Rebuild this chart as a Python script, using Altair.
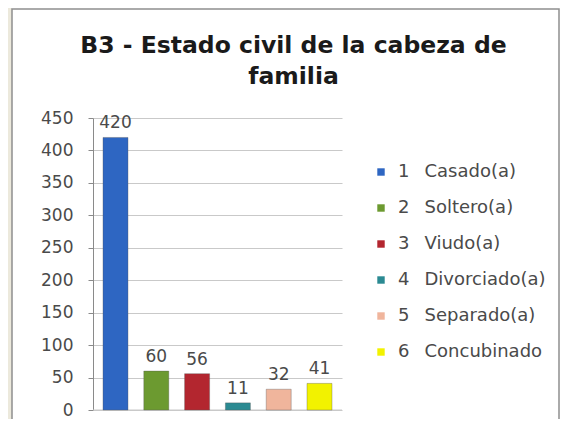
import altair as alt
import pandas as pd

categories = ["1", "2", "3", "4", "5", "6"]
names = ["Casado(a)", "Soltero(a)", "Viudo(a)", "Divorciado(a)", "Separado(a)", "Concubinado"]
values = [420, 60, 56, 11, 32, 41]
colors = ["#2E66C2", "#6C9A30", "#B3262F", "#2B8A92", "#F0B59C", "#F2F200"]
y_ticks = [0, 50, 100, 150, 200, 250, 300, 350, 400, 450]
title_lines = ["B3 - Estado civil de la cabeza de", "familia"]

labels = [c + "\u00a0\u00a0\u2009" + n for c, n in zip(categories, names)]
df = pd.DataFrame({"cat": labels, "value": values})

font = "DejaVu Sans"
one = pd.DataFrame({"a": [0]})

beige = alt.Chart(one).mark_rect(fill="#ECE9DC", strokeWidth=0).encode(
    x=alt.value(-85), x2=alt.value(-81), y=alt.value(-110), y2=alt.value(310)
)
frame = alt.Chart(one).mark_rect(
    fill=None, stroke="#8f8f8f", strokeWidth=1.5
).encode(
    x=alt.value(-81), x2=alt.value(466), y=alt.value(-109), y2=alt.value(330)
)

base = alt.Chart(df).encode(
    x=alt.X("cat:N", sort=labels, axis=None,
            scale=alt.Scale(paddingInner=0.387, paddingOuter=0.245)),
    y=alt.Y("value:Q", scale=alt.Scale(domain=[0, 450], nice=False),
            axis=alt.Axis(values=y_ticks, title=None, grid=True, gridColor="#c9c9c9",
                          domainColor="#8a8a8a", tickColor="#8a8a8a", tickSize=5,
                          labelPadding=15, labelFontSize=17, labelColor="#4a4a4a",
                          labelFont=font)),
)

bars = base.mark_bar(strokeWidth=1, stroke="#555555", strokeOpacity=0.35).encode(
    color=alt.Color("cat:N", sort=labels,
                    scale=alt.Scale(domain=labels, range=colors),
                    legend=alt.Legend(title=None, orient="none", legendX=279, legendY=45,
                                      symbolType="square", symbolSize=55,
                                      symbolStrokeWidth=0, labelFontSize=18,
                                      labelColor="#4a4a4a", labelFont=font,
                                      rowPadding=18, labelOffset=8, padding=0))
)

text = base.mark_text(baseline="bottom", dy=-5, fontSize=17, color="#4a4a4a", font=font).encode(
    text=alt.Text("value:Q")
)

baseline = alt.Chart(one).mark_rule(color="#c9c9c9").encode(
    x=alt.value(0), x2=alt.value(249), y=alt.value(292)
)

chart = alt.layer(beige, frame, baseline, bars, text).properties(
    width=249, height=292,
    padding={"left": 85, "top": 110, "right": 218, "bottom": 9},
    autosize=alt.AutoSizeParams(type="none"),
    background="white",
    title=alt.TitleParams(text=title_lines, anchor="middle", frame="group", dx=76,
                          offset=-80, fontSize=23.5, font=font, fontWeight="bold",
                          color="#1a1a1a", lineHeight=31),
).configure_view(stroke=None)

chart.save("out.html", embed_options={"renderer": "svg", "actions": False})
